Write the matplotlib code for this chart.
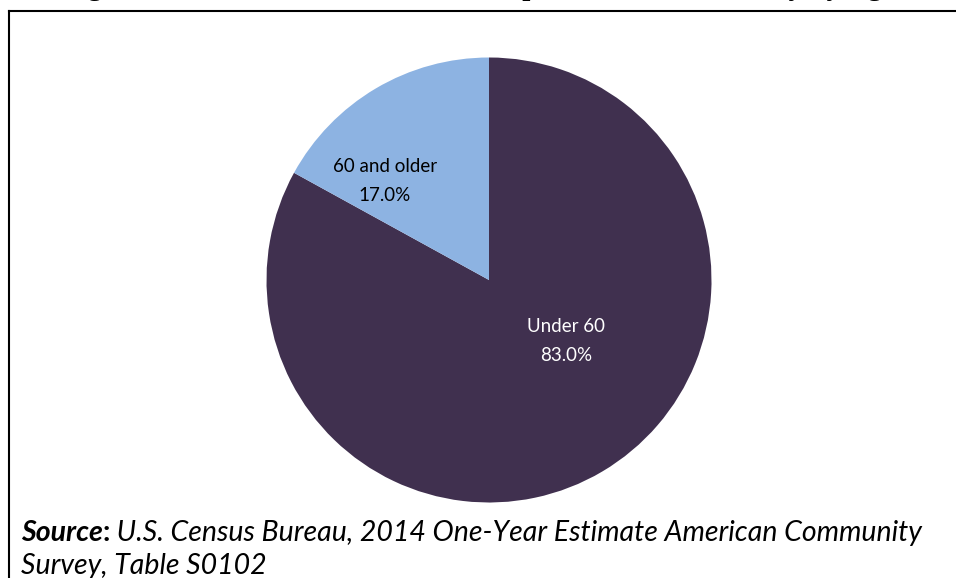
import matplotlib
matplotlib.use('Agg')
import matplotlib.pyplot as plt

W, H = 956, 578

# Данные диаграммы
labels = ['Under 60', '60 and older']
shares = [83.0, 17.0]
colors = ['#40304F', '#8DB3E2']
label_colors = ['white', 'black']

title = 'Figure 2: Distribution of the Total Population of the County by Age'
source_head = 'Source'
source_rest = ' U.S. Census Bureau, 2014 One-Year Estimate American Community'
source_line2 = 'Survey, Table S0102'

fig = plt.figure(figsize=(W / 100, H / 100), dpi=100)
fig.patch.set_facecolor('white')

# Рамка (видны только верхняя и левая стороны)
fig.add_artist(plt.Line2D([9 / W, 9 / W], [0, 1 - 10.5 / H], color='black', lw=1.5,
                          transform=fig.transFigure))
fig.add_artist(plt.Line2D([8.5 / W, 1], [1 - 10.5 / H, 1 - 10.5 / H], color='black', lw=1.5,
                          transform=fig.transFigure))

# Заголовок обрезан сверху — видны только выносные элементы
fig.text(0.5, 1 + 5 / H, title, ha='center', va='baseline', family='Liberation Serif',
         fontweight='bold', fontsize=21)

# Круговая диаграмма
cx, cy, r = 489, 280, 222.5
ax = fig.add_axes([(cx - r) / W, 1 - (cy + r) / H, 2 * r / W, 2 * r / H])
ax.pie(shares, colors=colors, startangle=90, counterclock=False,
       wedgeprops=dict(linewidth=0))
ax.set_xlim(-1, 1)
ax.set_ylim(-1, 1)
ax.set_aspect('auto')
ax.axis('off')

# Подписи секторов
label_pos = [(566, 341), (385, 181)]
for (px, py), lab, val, c in zip(label_pos, labels, shares, label_colors):
    fig.text(px / W, 1 - py / H, f'{lab}\n{val:.1f}%', ha='center', va='center',
             color=c, family='Lato', fontsize=13.5, linespacing=1.85)

# Источник
fig.canvas.draw()
rend = fig.canvas.get_renderer()
fs = 20.5
y1 = 1 - 541 / H
t1 = fig.text(21 / W, y1, source_head, family='Lato', style='italic', fontweight='bold',
              fontsize=fs, va='baseline')
x = t1.get_window_extent(rend).x1
t2 = fig.text(x / W, y1, ':', family='Lato', fontweight='bold', fontsize=fs, va='baseline')
x = t2.get_window_extent(rend).x1
fig.text(x / W, y1, source_rest, family='Lato', style='italic', fontsize=fs, va='baseline')
fig.text(21 / W, 1 - 574 / H, source_line2, family='Lato', style='italic', fontsize=fs,
         va='baseline')

fig.savefig('out.png', dpi=100)
